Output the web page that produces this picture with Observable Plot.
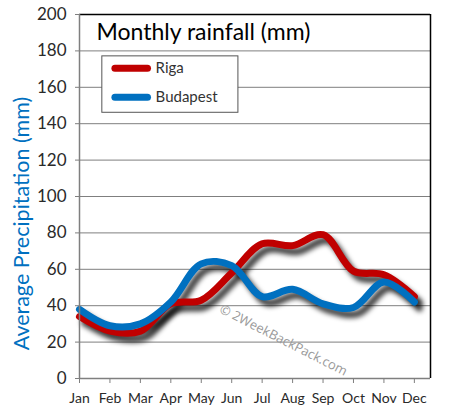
<!DOCTYPE html>
<html>
<head>
<meta charset="utf-8">
<script src="https://cdn.jsdelivr.net/npm/d3@7"></script>
<script src="https://cdn.jsdelivr.net/npm/@observablehq/plot@0.6"></script>
<style>
  html, body { margin: 0; padding: 0; background: #fff; }
  #chart svg { display: block; }
</style>
</head>
<body>
<div id="chart"></div>
<script>
const months = ["Jan","Feb","Mar","Apr","May","Jun","Jul","Aug","Sep","Oct","Nov","Dec"];
const riga = [34, 26, 26, 41, 43, 58, 74, 73, 79, 59, 57, 45];
const budapest = [38, 29, 30, 42, 63, 62, 45, 49, 41, 39, 53, 42];
const yTicks = [0, 20, 40, 60, 80, 100, 120, 140, 160, 180, 200];
const seriesNames = ["Riga", "Budapest"];
const seriesColors = ["#C00000", "#0070C0"];

const rows = [];
[riga, budapest].forEach((vals, s) => vals.forEach((v, i) => rows.push({series: seriesNames[s], m: i, v})));
const rigaRows = rows.filter(d => d.series === "Riga");
const budRows = rows.filter(d => d.series === "Budapest");

const font = "Lato, 'Open Sans', sans-serif";

const plot = Plot.plot({
  width: 450,
  height: 419,
  marginLeft: 79,
  marginRight: 20,
  marginTop: 14,
  marginBottom: 41,
  style: {fontFamily: font, background: "#fff", overflow: "visible"},
  x: {domain: [0, 11.53], ticks: d3.range(12), tickFormat: i => months[i], tickSize: 5, tickPadding: 8, label: null},
  y: {domain: [0, 200], ticks: yTicks, tickSize: 4, tickPadding: 10, label: null},
  marks: [
    Plot.gridY(yTicks, {stroke: "#7f7f7f", strokeOpacity: 1, strokeWidth: 1}),
    // shadows
    Plot.lineY(budRows, {x: "m", y: "v", stroke: "#000", strokeWidth: 7, strokeOpacity: 0.75, curve: "catmull-rom", dx: 5, dy: 6}),
    Plot.lineY(rigaRows, {x: "m", y: "v", stroke: "#000", strokeWidth: 7, strokeOpacity: 0.75, curve: "catmull-rom", dx: 5, dy: 6}),
    Plot.text(["© 2WeekBackPack.com"], {x: 6.7, y: 21, text: d => d, rotate: 27, fill: "#9a9a9a", fontSize: 13, fontFamily: "'Open Sans', sans-serif"}),
    Plot.lineY(rigaRows, {x: "m", y: "v", stroke: seriesColors[0], strokeWidth: 7, curve: "catmull-rom"}),
    Plot.lineY(budRows, {x: "m", y: "v", stroke: seriesColors[1], strokeWidth: 7, curve: "catmull-rom"}),
    Plot.ruleY([200], {stroke: "#000", strokeWidth: 1.5}),
    Plot.ruleX([11.53], {stroke: "#000", strokeWidth: 1.5}),
    Plot.ruleY([0], {stroke: "#7f7f7f", strokeWidth: 1.5}),
    Plot.ruleX([0], {stroke: "#7f7f7f", strokeWidth: 1.5}),
    Plot.axisX({ticks: d3.range(12), tickFormat: i => months[i], tickSize: 5, tickPadding: 10, stroke: "#7f7f7f", fill: "#2a2a2a", fontSize: 14, label: null}),
    Plot.axisY({ticks: yTicks, tickSize: 4, tickPadding: 9, stroke: "#7f7f7f", fill: "#2a2a2a", fontSize: 17, label: null}),
    // title
    Plot.text(["Monthly rainfall (mm)"], {frameAnchor: "top-left", dx: 17, dy: 9, text: d => d, fontSize: 23, fill: "#000", textAnchor: "start", lineAnchor: "top"}),
    // legend box
    Plot.rect([0], {x1: 0.75, x2: 5.22, y1: 146, y2: 177, fill: "#fff", stroke: "#555", strokeWidth: 1}),
    Plot.ruleY([{y: 170.5, c: seriesColors[0]}, {y: 154.5, c: seriesColors[1]}], {x1: 1.18, x2: 2.25, y: "y", stroke: "c", strokeWidth: 7, strokeLinecap: "round"}),
    Plot.text([{y: 170.5, t: seriesNames[0]}, {y: 154.5, t: seriesNames[1]}], {x: 2.5, y: "y", text: "t", textAnchor: "start", fontSize: 15, fill: "#333"}),
    // y label
    Plot.text(["Average Precipitation (mm)"], {frameAnchor: "left", dx: -57, dy: 27, rotate: -90, textAnchor: "middle", text: d => d, fontSize: 21.5, fill: "#0070C0"})
  ]
});

// blur the shadow lines
const lines = d3.select(plot).selectAll('g[aria-label="line"]').nodes();
lines.slice(0, 2).forEach(n => d3.select(n).style("filter", "blur(2.5px)"));

document.getElementById("chart").appendChild(plot);
</script>
</body>
</html>
